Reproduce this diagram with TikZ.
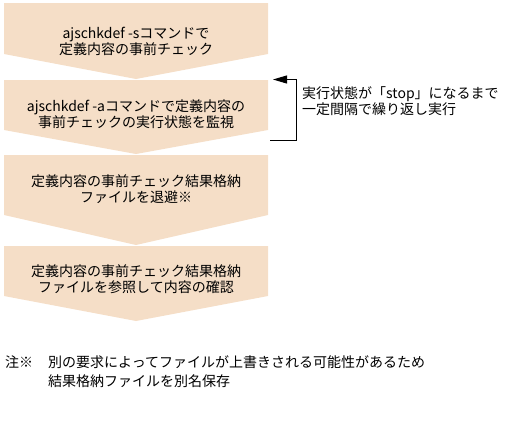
\documentclass[tikz,border=0pt]{standalone}
\usepackage{fontspec}
\setmainfont{Noto Sans CJK JP}
\usepackage{tikz}
\usetikzlibrary{arrows.meta}
\definecolor{stepfill}{RGB}{245,222,199}

\begin{document}
\begin{tikzpicture}[x=1pt,y=-1pt,font=\fontsize{14}{16}\selectfont,every node/.style={inner sep=0pt}]
        \useasboundingbox (0,0) rectangle (508,426);
        \fill[stepfill] (4,3) -- (268,3) -- (268,54) -- (136,79) -- (4,54) -- cycle;
        \fill[stepfill] (4,80) -- (268,80) -- (268,130) -- (136,154) -- (4,130) -- cycle;
        \fill[stepfill] (4,155) -- (268,155) -- (268,215) -- (136,245) -- (4,215) -- cycle;
        \fill[stepfill] (4,246) -- (268,246) -- (268,296) -- (136,321) -- (4,296) -- cycle;
        \node[align=center] (check) at (136,41) {ajschkdef -sコマンドで\\定義内容の事前チェック};
        \node[align=center] (watch) at (136,114.5) {ajschkdef -aコマンドで定義内容の\\事前チェックの実行状態を監視};
        \node[align=center] (save) at (136,189.5) {定義内容の事前チェック結果格納\\ファイルを退避※};
        \node[align=center] (confirm) at (136,279.5) {定義内容の事前チェック結果格納\\ファイルを参照して内容の確認};
        \coordinate (loopout) at (270,140);
        \coordinate (loopin) at (273,79.5);
        \draw[line width=1pt,-{Triangle[length=14pt,width=8pt]}] (loopout) -- (296,140) -- (296,79.5) -- (loopin);
        \node[anchor=west,align=left] (looptext) at (302,101) {実行状態が「stop」になるまで\\一定間隔で繰り返し実行};
        \node[anchor=west] (notemark) at (5,362) {注※};
        \node[anchor=west,align=left,font=\fontsize{14}{19}\selectfont] (notetext) at (48,371.5) {別の要求によってファイルが上書きされる可能性があるため\\結果格納ファイルを別名保存};
    \end{tikzpicture}
\end{document}
